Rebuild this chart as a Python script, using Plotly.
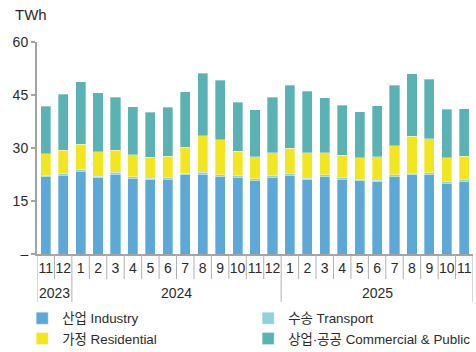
import plotly.graph_objects as go

# Monthly electricity consumption by sector (TWh), Nov 2023 – Nov 2025
years = ["2023"] * 2 + ["2024"] * 12 + ["2025"] * 11
months = ["11", "12"] + [str(m) for m in range(1, 13)] + [str(m) for m in range(1, 12)]

industry = [21.9, 22.3, 23.4, 21.6, 22.6, 21.4, 21.0, 21.2, 22.4, 22.6, 21.9, 21.6, 20.8,
            21.7, 22.3, 21.1, 21.9, 21.1, 20.8, 20.5, 21.9, 22.5, 22.5, 19.9, 20.5]
transport = [0.4, 0.6, 0.5, 0.4, 0.5, 0.4, 0.5, 0.4, 0.4, 0.6, 0.5, 0.5, 0.5,
             0.5, 0.5, 0.4, 0.5, 0.5, 0.4, 0.4, 0.5, 0.4, 0.5, 0.6, 0.6]
residential = [6.1, 6.4, 7.1, 7.0, 6.3, 6.3, 5.9, 6.1, 7.4, 10.3, 9.9, 7.0, 6.2,
               6.5, 7.2, 7.2, 6.3, 6.4, 6.1, 6.6, 8.2, 10.4, 9.6, 6.8, 6.5]
commercial = [13.4, 15.9, 17.7, 16.6, 15.0, 13.6, 12.7, 13.9, 15.7, 17.6, 16.9, 13.8, 13.3,
              15.6, 17.7, 17.4, 15.5, 14.1, 12.9, 14.5, 17.2, 17.7, 16.9, 13.7, 13.5]

series = [
    ("산업 Industry", industry, "#5CA9D8"),
    ("수송 Transport", transport, "#8FD0DC"),
    ("가정 Residential", residential, "#F2E620"),
    ("상업·공공 Commercial & Public", commercial, "#5BB2B4"),
]

y_ticks = [0, 15, 30, 45, 60]
y_ticktext = ["–", "15", "30", "45", "60"]

FONT = "Liberation Sans, Arial, Noto Sans CJK KR, sans-serif"
TEXT = "#2b2b2b"
AXIS = "#a3a3a3"

x = list(range(len(months)))

fig = go.Figure()
for name, vals, color in series:
    fig.add_trace(go.Bar(
        x=x, y=vals, name=name,
        marker=dict(color=color, line=dict(width=0.6, color="rgba(255,255,255,0.55)")),
    ))

# separators between months and taller dividers between years
shapes = []
n = len(months)
for i in range(n + 1):
    edge = i == 0 or i == n or years[i] != years[i - 1]
    shapes.append(dict(
        type="line", xref="x", yref="paper",
        x0=i - 0.5, x1=i - 0.5, y0=0, y1=-0.226 if edge else -0.118,
        line=dict(color="#b0b0b0", width=1),
    ))

# year labels centred under each group of months
annotations = []
for yr in dict.fromkeys(years):
    idx = [i for i, v in enumerate(years) if v == yr]
    annotations.append(dict(
        x=(idx[0] + idx[-1]) / 2, y=-0.184, xref="x", yref="paper",
        text=yr, showarrow=False, yanchor="middle",
        font=dict(size=14, color=TEXT, family=FONT),
    ))

annotations.append(dict(
    x=-0.055, y=1.132, xref="paper", yref="paper", text="TWh",
    showarrow=False, xanchor="left", yanchor="middle",
    font=dict(size=15, color=TEXT, family=FONT),
))

fig.update_layout(
    width=476, height=352,
    margin=dict(l=37, r=3, t=42, b=98, autoexpand=False),
    barmode="stack", bargap=0.42,
    paper_bgcolor="white", plot_bgcolor="white",
    font=dict(family=FONT, size=14, color=TEXT),
    shapes=shapes, annotations=annotations,
    showlegend=True,
    legend=dict(
        orientation="h", x=-0.034, xanchor="left", y=-0.231, yanchor="top",
        traceorder="normal", entrywidth=181, entrywidthmode="pixels",
        itemwidth=30, font=dict(size=13.4, color=TEXT, family=FONT),
        tracegroupgap=0, itemclick=False,
    ),
    xaxis=dict(
        range=[-0.5, n - 0.5], tickmode="array", tickvals=x, ticktext=months,
        ticks="", showgrid=False, zeroline=False,
        showline=True, linecolor=AXIS, linewidth=2,
        tickfont=dict(size=14, color=TEXT), fixedrange=True,
    ),
    yaxis=dict(
        range=[0, 60], tickmode="array", tickvals=y_ticks, ticktext=y_ticktext,
        ticks="outside", ticklen=4, tickcolor=AXIS, tickwidth=1.5,
        showgrid=False, zeroline=False,
        showline=True, linecolor=AXIS, linewidth=2,
        tickfont=dict(size=14, color=TEXT), fixedrange=True,
    ),
)

fig.write_html("out.html")
